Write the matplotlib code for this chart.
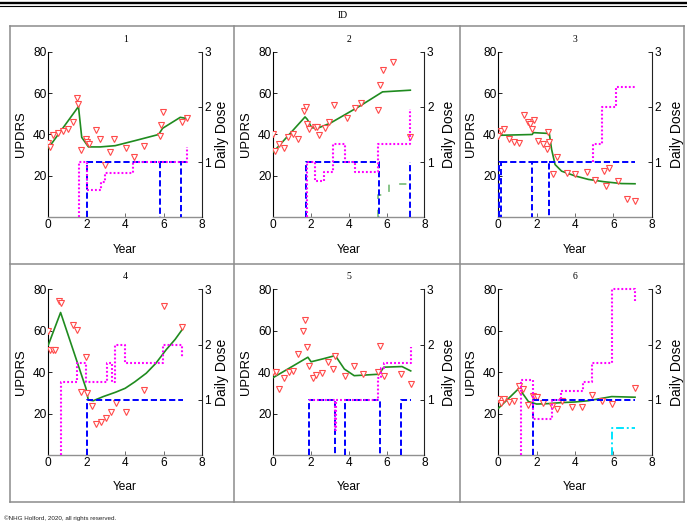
import matplotlib
matplotlib.use('Agg')
import matplotlib.pyplot as plt
from matplotlib.lines import Line2D

plt.rcParams['font.family'] = ['Liberation Sans', 'DejaVu Sans']

W, H = 687, 524

# ---------------- data ----------------
panel_ids = ['1', '2', '3', '4', '5', '6']
x_ticks = [0, 2, 4, 6, 8]
y_ticks = [20, 40, 60, 80]
dose_ticks = [1, 2, 3]

# Panel 1
obs_t1 = [0, 0.09, 0.26, 0.52, 0.78, 1.04, 1.27, 1.48, 1.57, 1.7, 1.97, 2.03, 2.14, 2.47, 2.71,
          2.96, 3.22, 3.43, 4.05, 4.47, 4.99, 5.79, 5.84, 5.97, 6.96, 7.22]
obs_v1 = [36, 34, 39.6, 40.9, 41.8, 42.6, 46, 57.8, 54.8, 32.5, 38, 36.3, 35.4, 42.2, 37.6,
          25.2, 31.5, 38, 33.4, 28.9, 34.4, 39.3, 44.7, 50.9, 46, 48]
pred_t1 = [0, 1.57, 1.74, 2.09, 2.7, 3.48, 4.5, 5.74, 5.95, 6.87, 7.22]
pred_v1 = [33.4, 53.5, 38.6, 34, 34, 34.6, 37, 40, 43, 48.3, 47.7]
blue_t1 = [2, 2, 5.83, 5.83, 6.92, 6.92, 7.22]
blue_d1 = [0, 1, 0, 1, 0, 1, 1]
mag_t1 = [1.6, 1.6, 2.0, 2.72, 2.95, 4.43, 7.22]
mag_d1 = [0, 1.0, 0.5, 0.64, 0.81, 1.0, 1.27]

# Panel 2
obs_t2 = [0, 0.09, 0.3, 0.57, 0.8, 1.06, 1.33, 1.63, 1.73, 1.77, 1.89, 2.21, 2.33, 2.44, 2.74,
          2.97, 3.22, 3.89, 4.33, 4.65, 5.53, 5.65, 5.78, 6.31, 7.25]
obs_v2 = [40.4, 32, 35.2, 33.6, 38.8, 40, 38, 51.4, 53.3, 44.9, 42.5, 43.6, 43.6, 39.9, 43.3,
          46.2, 54.1, 48.1, 52.7, 55.1, 51.7, 64, 71.2, 75.1, 38.8]
pred_t2 = [0, 1.68, 1.8, 2.03, 2.33, 3.0, 4.59, 5.78, 7.25]
pred_v2 = [31.5, 48.5, 47.3, 43.3, 43, 45.4, 53.8, 60.6, 61.4]
blue_t2 = [1.73, 1.73, 5.6, 7.25]
blue_d2 = [0, 1, 0, 1]
mag_t2 = [1.77, 1.77, 2.2, 2.7, 3.17, 3.79, 4.32, 5.56, 7.25]
mag_d2 = [0, 1.0, 0.65, 0.82, 1.33, 1.0, 0.82, 1.33, 1.96]
lgreen_t2 = [5.56, 5.56, 6.1, 7.25]
lgreen_d2 = [0, 0.4, 0.6, 0.6]

# Panel 3
obs_t3 = [0, 0.14, 0.31, 0.56, 0.82, 1.08, 1.36, 1.57, 1.65, 1.77, 1.86, 2.05, 2.31, 2.56, 2.61,
          2.64, 2.83, 3.08, 3.57, 4.0, 4.63, 5.04, 5.5, 5.6, 5.77, 6.23, 6.71, 7.13]
obs_v3 = [39.3, 41.5, 42.5, 38, 36.3, 35.7, 49.6, 46, 44.9, 42.8, 47, 36.8, 35.2, 32.8, 41.2,
          36.3, 21, 29.2, 21.2, 20.7, 22, 17.9, 22.3, 15.3, 23.9, 17.4, 8.9, 8.1]
pred_t3 = [0, 1.77, 1.83, 2.66, 2.78, 2.96, 3.3, 4.0, 4.7, 5.5, 6.43, 7.13]
pred_v3 = [39.6, 40, 40.9, 40.5, 32.8, 25.5, 22.3, 20, 18.3, 17.2, 16.3, 16.2]
blue_t3 = [0.04, 0.04, 0.13, 0.13, 1.74, 1.74, 2.66, 2.66, 7.13]
blue_d3 = [0, 1, 0, 1, 0, 1, 0, 1, 1]
mag_t3 = [4.95, 4.95, 5.4, 6.12, 7.13]
mag_d3 = [1.0, 1.33, 2.0, 2.36, 2.36]

# Panel 4
obs_t4 = [0, 0.09, 0.23, 0.35, 0.57, 0.64, 1.26, 1.5, 1.7, 1.96, 2.03, 2.25, 2.48, 2.74, 2.98,
          3.24, 3.5, 4.02, 4.97, 6.01, 6.98]
obs_v4 = [60, 50.7, 50.7, 50.7, 74.5, 73.5, 62.7, 60.4, 30.6, 47.2, 30.1, 23.8, 15, 15.8, 17.7,
          20.6, 25.3, 20.6, 31.4, 72.1, 62]
pred_t4 = [0, 0.64, 1.3, 1.96, 2.08, 2.34, 2.86, 3.5, 4.0, 4.5, 5.1, 5.6, 6.15, 6.6, 6.98]
pred_v4 = [53.1, 68.8, 50.5, 32.2, 26.6, 26.2, 28.2, 30.3, 32.2, 35.3, 39.5, 44.3, 51, 55.8, 60.7]
blue_t4 = [2.0, 2.0, 7.0]
blue_d4 = [0, 1, 1]
mag_t4 = [0.64, 0.64, 1.5, 1.96, 3.03, 3.3, 3.46, 4.0, 5.97, 6.98]
mag_d4 = [0, 1.33, 1.67, 1.33, 1.67, 1.33, 2.0, 1.67, 2.0, 1.75]

# Panel 5
obs_t5 = [0, 0.12, 0.31, 0.58, 0.82, 1.05, 1.31, 1.57, 1.69, 1.78, 1.87, 2.1, 2.27, 2.59, 2.88,
          3.18, 3.28, 3.79, 4.28, 4.77, 5.55, 5.62, 5.85, 6.76, 7.27]
obs_v5 = [40.2, 40.2, 31.9, 37, 40.2, 40.7, 48.8, 60, 65.2, 52, 43, 37, 38.6, 39.8, 44.8,
          41.7, 48, 38.3, 43, 39.1, 40, 52.8, 38.3, 39.1, 34.1]
pred_t5 = [0, 1.83, 2.0, 2.62, 3.28, 3.76, 4.28, 5.59, 5.85, 6.81, 7.27]
pred_v5 = [37.4, 47.2, 45, 46.4, 48, 41.5, 38.3, 39, 42.4, 42.7, 40.6]
blue_t5 = [1.89, 1.89, 3.28, 3.79, 5.62, 6.76, 7.27]
blue_d5 = [0, 1, 0, 1, 0, 1, 1]
mag_t5 = [1.89, 3.28, 3.3, 5.53, 5.7, 5.85, 7.27]
mag_d5 = [1.0, 0.45, 1.0, 1.4, 1.57, 1.66, 1.95]

# Panel 6
obs_t6 = [0, 0.12, 0.31, 0.57, 0.83, 1.1, 1.13, 1.27, 1.53, 1.79, 1.91, 2.03, 2.35, 2.78, 3.04,
          3.3, 3.86, 4.35, 4.87, 5.39, 5.91, 7.13]
obs_v6 = [27, 24.9, 27, 25.8, 26.1, 33.3, 30.9, 31.7, 24.2, 28.7, 28.2, 28.2, 25.3, 23.8, 22.2,
          26.2, 23, 23.3, 29, 26.1, 24.5, 32.2]
pred_t6 = [0, 1.08, 1.57, 2.0, 2.6, 3.3, 4.0, 4.7, 5.3, 5.91, 7.13]
pred_v6 = [22.5, 32.2, 25.8, 24.6, 24.8, 25.3, 25.6, 26.2, 27.2, 28.2, 27.9]
blue_t6 = [1.83, 1.83, 7.13]
blue_d6 = [0, 1, 1]
mag_t6 = [1.17, 1.17, 1.79, 2.8, 3.25, 4.4, 4.87, 5.91, 7.13]
mag_d6 = [0, 1.35, 0.66, 1.0, 1.16, 1.33, 1.67, 3.0, 2.75]
cyan_t6 = [5.91, 5.91, 7.13]
cyan_d6 = [0, 0.48, 0.48]

panels = [
    (obs_t1, obs_v1, pred_t1, pred_v1, [(blue_t1, blue_d1, 'b'), (mag_t1, mag_d1, 'm')]),
    (obs_t2, obs_v2, pred_t2, pred_v2, [(lgreen_t2, lgreen_d2, 'g'), (blue_t2, blue_d2, 'b'), (mag_t2, mag_d2, 'm')]),
    (obs_t3, obs_v3, pred_t3, pred_v3, [(blue_t3, blue_d3, 'b'), (mag_t3, mag_d3, 'm')]),
    (obs_t4, obs_v4, pred_t4, pred_v4, [(blue_t4, blue_d4, 'b'), (mag_t4, mag_d4, 'm')]),
    (obs_t5, obs_v5, pred_t5, pred_v5, [(blue_t5, blue_d5, 'b'), (mag_t5, mag_d5, 'm')]),
    (obs_t6, obs_v6, pred_t6, pred_v6, [(blue_t6, blue_d6, 'b'), (mag_t6, mag_d6, 'm'), (cyan_t6, cyan_d6, 'c')]),
]

dose_styles = {
    'b': dict(color='#0000ff', lw=1.4, ls=(0, (3.2, 1.5))),
    'm': dict(color='#ff00ff', lw=1.5, ls=(0, (0.9, 1.0))),
    'c': dict(color='#00e5ff', lw=1.4, ls=(0, (4, 1.5, 1, 1.5))),
    'g': dict(color='#7fbf7f', lw=1.3, ls=(0, (4, 6))),
}


def step_path(t, d):
    """Post-step path; horizontal runs at zero dose are left out and
    zero-length dips are drawn once (down stroke only)."""
    xs, ys = [t[0]], [d[0]]
    for i in range(len(t) - 1):
        if d[i] == 0:
            if t[i + 1] == t[i] and i > 0:
                # zero-length dip: skip the way back up
                xs += [float('nan')]
                ys += [float('nan')]
                xs += [t[i + 1]]
                ys += [d[i + 1]]
                continue
            xs += [float('nan'), t[i + 1]]
            ys += [float('nan'), 0]
        else:
            xs.append(t[i + 1])
            ys.append(d[i])
        xs.append(t[i + 1])
        ys.append(d[i + 1])
    return xs, ys


# ---------------- layout (pixels) ----------------
col_left = [48.3, 273.3, 498.3]
col_right = [202.0, 424.5, 651.7]
row_top = [51.7, 289.3]
row_bot = [217.3, 455.0]
ddose_off = [20, 25, 25]

fig = plt.figure(figsize=(W / 100, H / 100), dpi=100)


def fx(px):
    return px / W


def fy(py):
    return 1 - py / H


# header lines
fig.add_artist(Line2D([0, 1], [fy(2.9), fy(2.9)], lw=1.7, color='black'))
fig.add_artist(Line2D([0, 1], [fy(5.6), fy(5.6)], lw=0.8, color='black'))
fig.text(fx(343), fy(15), 'ID', family=['Liberation Serif', 'DejaVu Serif'], fontsize=7,
         ha='center', va='center')

# grid box
bx0, bx1, by0, by1 = 9.6, 684.0, 26.0, 502.0
gcol = '#8c8c8c'
for (xa, ya, xb, yb) in [(bx0, by0, bx1, by0), (bx0, by1, bx1, by1), (bx0, by0, bx0, by1),
                         (bx1, by0, bx1, by1), (234.4, by0, 234.4, by1), (460.0, by0, 460.0, by1),
                         (bx0, 264.0, bx1, 264.0)]:
    fig.add_artist(Line2D([fx(xa), fx(xb)], [fy(ya), fy(yb)], lw=1.1, color=gcol))

fig.text(fx(4), fy(518), '\u00a9NHG Holford, 2020, all rights reserved.', fontsize=4.5,
         ha='left', va='center', color='#222222')

for i, (ot, ov, pt, pv, doses) in enumerate(panels):
    r, c = divmod(i, 3)
    l, rr, t, b = col_left[c], col_right[c], row_top[r], row_bot[r]
    ax = fig.add_axes([fx(l), fy(b), fx(rr - l), (b - t) / H])
    ax2 = ax.twinx()

    ax.plot(pt, pv, color='#1f8b1f', lw=1.2, zorder=3)
    ax.plot(ot, ov, ls='none', marker='v', ms=3.7, mfc='white', mec='#ff4a4a', mew=0.8, zorder=4)

    for dt, dd, key in doses:
        st = dose_styles[key]
        xs, ys = step_path(dt, dd)
        ln, = ax2.plot(xs, ys, color=st['color'], lw=st['lw'], ls=st['ls'], zorder=2)
        if max(dd) >= 3.0:
            ln.set_clip_on(False)

    ax.set_xlim(0, 8)
    ax.set_ylim(0, 80)
    ax2.set_ylim(0, 3)
    ax.set_xticks(x_ticks)
    ax.set_yticks(y_ticks)
    ax2.set_yticks(dose_ticks)
    ax.tick_params(axis='x', direction='in', length=3, width=0.6, pad=1.5, labelsize=8.6, color='#555555')
    ax.tick_params(axis='y', direction='in', length=3, width=0.6, pad=1.3, labelsize=8.6)
    ax2.tick_params(axis='y', direction='in', length=3, width=0.6, pad=1.8, labelsize=8.6)

    for a in (ax, ax2):
        a.patch.set_visible(False)
        a.spines['top'].set_visible(False)
    ax.spines['right'].set_visible(False)
    ax2.spines['left'].set_visible(False)
    ax2.spines['bottom'].set_visible(False)
    ax.spines['left'].set_color('black')
    ax.spines['left'].set_linewidth(0.8)
    ax.spines['bottom'].set_color('#909090')
    ax.spines['bottom'].set_linewidth(1.0)
    ax2.spines['right'].set_color('#222222')
    ax2.spines['right'].set_linewidth(0.8)

    ax.set_xlabel('Year', fontsize=8.6)
    ax.xaxis.set_label_coords(0.5, -(32.3) / (b - t))
    ax.xaxis.label.set_va('center')
    ax.set_ylabel('UPDRS', fontsize=9.4)
    ax.yaxis.set_label_coords(-27.3 / (rr - l), 0.5)
    ax.yaxis.label.set_va('center')
    ax2.set_ylabel('Daily Dose', fontsize=10, rotation=90)
    ax2.yaxis.set_label_coords(1 + ddose_off[c] / (rr - l), 0.5)
    ax2.yaxis.label.set_va('center')

    fig.text(fx((l + rr) / 2), fy(39.0 if r == 0 else 276.7), panel_ids[i],
             family=['Liberation Serif', 'DejaVu Serif'], fontsize=7, ha='center', va='center')

fig.savefig('out.png', dpi=100)
